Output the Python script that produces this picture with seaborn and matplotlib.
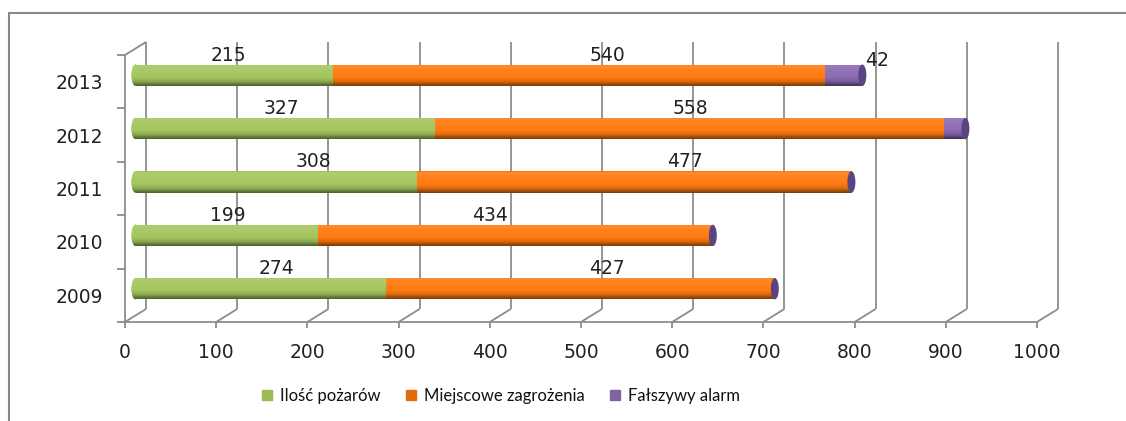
import numpy as np
import pandas as pd
import matplotlib
matplotlib.use("Agg")
import matplotlib.pyplot as plt
import seaborn as sns
from matplotlib.patches import Ellipse, Rectangle
from matplotlib.lines import Line2D
from matplotlib.colors import to_rgb

# ---------------- data ----------------
years = ["2009", "2010", "2011", "2012", "2013"]
fires = [274, 199, 308, 327, 215]            # Ilość pożarów
local_threats = [427, 434, 477, 558, 540]    # Miejscowe zagrożenia
false_alarms = [0, 0, 0, 25, 42]             # Fałszywy alarm
false_alarm_labels = [None, None, None, None, "42"]
series_names = ["Ilość pożarów", "Miejscowe zagrożenia", "Fałszywy alarm"]
x_ticks = [0, 100, 200, 300, 400, 500, 600, 700, 800, 900, 1000]

# label nudges in pixels (style only)
nudge_fires = [16, 2, 37, -3, -5]
nudge_local = [27, -25, 51, 2, 30]
nudge_false = [0, 0, 0, 0, 34]

# ---------------- style ----------------
sns.set_theme(style="white")
plt.rcParams["font.family"] = ["DejaVu Sans"]

W, H = 1126, 421
fig = plt.figure(figsize=(W / 100, H / 100), dpi=100)
ax = fig.add_axes([125 / W, (H - 322) / H, 912 / W, 267 / H])

order = years[::-1]  # 2013 on top
ux = 1000 / 912      # data units per pixel (x)
uy = 5 / 267         # data units per pixel (y, positive = down)
DX, DY = 21, 13      # depth offset of back wall (px)
BX, BY = 10.5, 6.5   # bar offset (mid depth)

grid_c = "#8c8c8c"
glw = 1.3

# ---------------- frame (3D-like walls) ----------------
def line(xs, ys, **kw):
    ax.add_line(Line2D(xs, ys, color=grid_c, lw=glw, clip_on=False, zorder=1,
                       solid_capstyle="butt", **kw))

ytop, ybot = -0.5, 4.5
for v in x_ticks:
    line([v + DX * ux] * 2, [ybot - DY * uy, ytop - DY * uy])
    line([v, v + DX * ux], [ybot, ybot - DY * uy])
    line([v, v], [ybot, ybot + 6 * uy])
line([0, 1000], [ybot, ybot])
line([0, 0], [ytop, ybot])
line([0, DX * ux], [ytop, ytop - DY * uy])
for k in range(6):
    yb = ytop + k
    line([-8 * ux, 0], [yb, yb])

# ---------------- bars ----------------
c1 = np.array(fires)
c2 = c1 + np.array(local_threats)
c3 = c2 + np.array(false_alarms)
df = pd.DataFrame({"year": years, "c1": c1, "c2": c2, "c3": c3})

bar_colors = {"c3": "#8c6bb4", "c2": "#ff7b10", "c1": "#a4c65e"}
bw = 0.40
groups = {}
for col in ["c3", "c2", "c1"]:
    before = len(ax.patches)
    sns.barplot(data=df, x=col, y="year", order=order, orient="h",
                color=bar_colors[col], saturation=1, width=bw, ax=ax,
                linewidth=0, zorder=3)
    groups[col] = ax.patches[before:]

# shift bars to mid depth
for col, ps in groups.items():
    for p in ps:
        p.set_x(p.get_x() + BX * ux)
        p.set_y(p.get_y() - BY * uy)
        p.set_zorder(3)

# cylinder shading: per-colour vertical gradient
N = 80
t = np.linspace(0, 1, N)
prof = np.interp(t, [0, 0.08, 0.3, 0.6, 0.8, 0.92, 1.0],
                 [0.95, 1.12, 1.05, 1.0, 0.85, 0.6, 0.48])


def grad_img(color):
    base = np.array(to_rgb(color))
    img = np.ones((N, 1, 4))
    for i, f in enumerate(prof):
        if f >= 1:
            c = base + (1 - base) * (f - 1)
        else:
            c = base * f
        img[i, 0, :3] = np.clip(c, 0, 1)
    return img


def add_shade(patch, color, x0, x1, y0, y1, z):
    im = ax.imshow(grad_img(color), extent=(x0, x1, y1, y0), origin="upper",
                   aspect="auto", zorder=z, interpolation="bilinear")
    im.set_clip_path(patch)


for col, ps in groups.items():
    for p in ps:
        x0, y0 = p.get_x(), p.get_y()
        add_shade(p, bar_colors[col], x0, x0 + p.get_width(), y0,
                  y0 + p.get_height(), 3.5)

# caps
capw = 8 * ux
for p in groups["c1"]:
    yc = p.get_y() + p.get_height() / 2
    e = Ellipse((p.get_x(), yc), capw, p.get_height(), color=bar_colors["c1"],
                zorder=2.8, lw=0)
    ax.add_patch(e)
    add_shade(e, bar_colors["c1"], p.get_x() - capw, p.get_x() + capw,
              p.get_y(), p.get_y() + p.get_height(), 2.9)
for p in groups["c3"]:
    yc = p.get_y() + p.get_height() / 2
    e = Ellipse((p.get_x() + p.get_width(), yc), capw, p.get_height(),
                color="#5a4582", zorder=4, lw=0)
    ax.add_patch(e)

# ---------------- labels ----------------
idx = {y: i for i, y in enumerate(years)}
lab_kw = dict(ha="center", va="center", fontsize=13.5, color="#222222",
              zorder=6, clip_on=False)
for k, yr in enumerate(order):
    i = idx[yr]
    top = k - bw / 2 - BY * uy
    ylab = top - 9.5 * uy
    segs = [(0, c1[i], str(fires[i]), nudge_fires[i], 0),
            (c1[i], c2[i], str(local_threats[i]), nudge_local[i], 0),
            (c2[i], c3[i], false_alarm_labels[i], nudge_false[i], 5)]
    for a, b, txt, nd, dy in segs:
        if txt is None:
            continue
        ax.text((a + b) / 2 + (BX + nd) * ux, ylab + dy * uy, txt, **lab_kw)

# ---------------- axes ----------------
ax.set_xlim(0, 1000)
ax.set_ylim(4.5, -0.5)
ax.set_xticks(x_ticks)
ax.set_xticklabels([str(v) for v in x_ticks])
ax.set_yticks(range(len(order)))
ax.set_yticklabels(order)
ax.tick_params(axis="x", length=0, pad=15, labelsize=13.5, labelcolor="#222222")
ax.tick_params(axis="y", length=0, pad=15.5, labelsize=13.5, labelcolor="#222222")
ax.set_xlabel("")
ax.set_ylabel("")
for s in ax.spines.values():
    s.set_visible(False)
ax.patch.set_alpha(0)
ax.grid(False)

# ---------------- legend ----------------
leg_colors = ["#9bbb59", "#e46c0a", "#8064a2"]
handles = [Line2D([], [], marker="s", linestyle="", markersize=6.5,
                  markerfacecolor=c, markeredgecolor=c) for c in leg_colors]
fig.legend(handles, series_names, loc="center", ncol=3,
           bbox_to_anchor=(501 / W, 1 - 396 / H), frameon=False,
           prop={"family": "Lato", "size": 12}, handlelength=0.6,
           handletextpad=0.45, columnspacing=1.55, labelcolor="#111111")

# ---------------- outer border ----------------
fig.add_artist(Rectangle((9 / W, -0.1), 1.2, (H - 13) / H + 0.1,
                         transform=fig.transFigure, fill=False,
                         ec="#888888", lw=1.5))

fig.savefig("out.png", dpi=100)
